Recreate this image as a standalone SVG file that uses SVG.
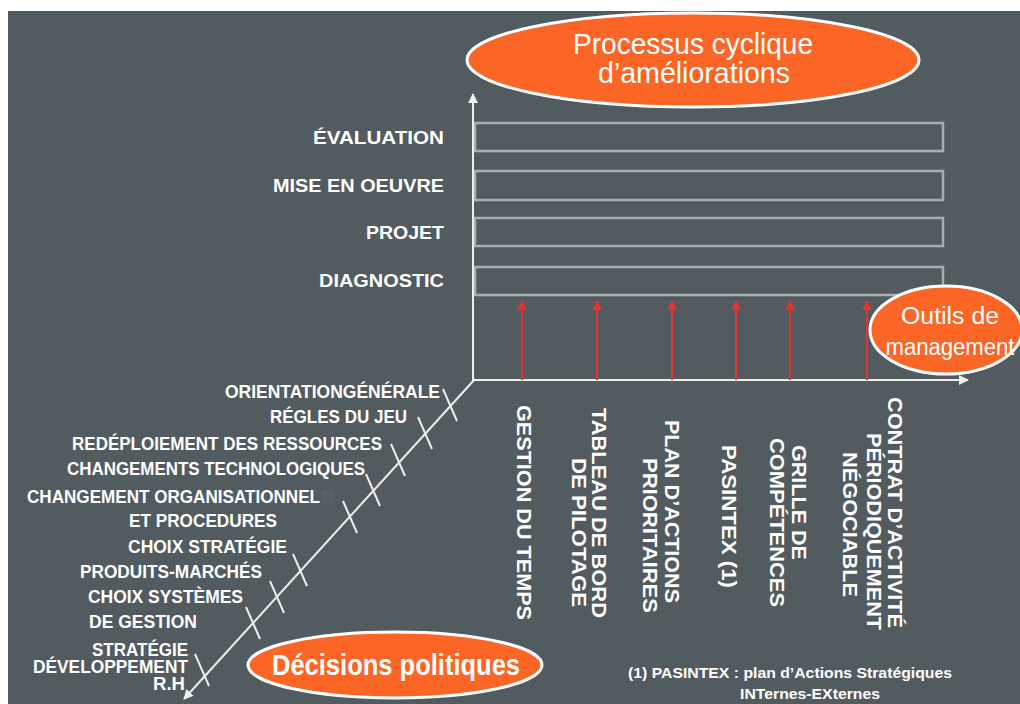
<svg xmlns="http://www.w3.org/2000/svg" width="1020" height="704" viewBox="0 0 1020 704">
<defs>
<style>
.bg{fill:#525b60}
.ell{fill:#fb6526;stroke:#ffffff;stroke-width:3}
.etxt{font-family:"Liberation Sans Narrow","Liberation Sans",Arial,sans-serif;fill:#ffffff}
.row{font-family:"Liberation Sans",Arial,sans-serif;font-weight:bold;font-size:19px;fill:#ffffff}
.lab{font-family:"Liberation Sans",Arial,sans-serif;font-weight:bold;font-size:18px;fill:#ffffff}
.vt{font-family:"Liberation Sans",Arial,sans-serif;font-weight:bold;font-size:21px;fill:#ffffff}
.note{font-family:"Liberation Sans",Arial,sans-serif;font-weight:bold;font-size:15px;fill:#ffffff}
.lane{fill:none;stroke:#a7afb2;stroke-width:2.5}
.axis{stroke:#eeeeee;stroke-width:2;fill:none}
.tick{stroke:#eeeeee;stroke-width:2}
.red{stroke:#e8322c;stroke-width:2;fill:none}
</style>
<marker id="wa" viewBox="0 0 10 10" refX="9" refY="5" markerWidth="5" markerHeight="5" orient="auto" markerUnits="strokeWidth"><path d="M0,0 L10,5 L0,10 z" fill="#eeeeee"/></marker>
<marker id="ra" viewBox="0 0 10 10" refX="9" refY="5" markerWidth="5" markerHeight="5" orient="auto" markerUnits="strokeWidth"><path d="M0,0 L10,5 L0,10 z" fill="#e8322c"/></marker>
</defs>
<rect x="0" y="0" width="1020" height="704" fill="#ffffff"/>
<rect class="bg" x="8" y="11" width="1012" height="693"/>

<g id="lanes">
<rect class="lane" x="475" y="123" width="468" height="28"/>
<rect class="lane" x="475" y="171" width="468" height="29"/>
<rect class="lane" x="475" y="218" width="468" height="28"/>
<rect class="lane" x="475" y="267" width="468" height="28"/>
</g>

<g id="connectors">
<line class="axis" x1="473" y1="381" x2="473" y2="94" marker-end="url(#wa)"/>
<line class="axis" x1="473" y1="380" x2="968" y2="380" marker-end="url(#wa)"/>
<line class="axis" x1="475" y1="379" x2="184" y2="699" marker-end="url(#wa)"/>
<line class="tick" x1="443" y1="389" x2="457" y2="421"/>
<line class="tick" x1="418" y1="417" x2="432" y2="449"/>
<line class="tick" x1="391" y1="444" x2="405" y2="476"/>
<line class="tick" x1="366" y1="474" x2="380" y2="506"/>
<line class="tick" x1="343" y1="501" x2="357" y2="533"/>
<line class="tick" x1="293" y1="554" x2="307" y2="586"/>
<line class="tick" x1="270" y1="581" x2="284" y2="613"/>
<line class="tick" x1="246" y1="607" x2="260" y2="639"/>
<line class="tick" x1="195" y1="654" x2="209" y2="686"/>
<line class="red" x1="522" y1="380" x2="522" y2="301" marker-end="url(#ra)"/>
<line class="red" x1="597" y1="380" x2="597" y2="301" marker-end="url(#ra)"/>
<line class="red" x1="672" y1="380" x2="672" y2="301" marker-end="url(#ra)"/>
<line class="red" x1="736" y1="380" x2="736" y2="301" marker-end="url(#ra)"/>
<line class="red" x1="790" y1="380" x2="790" y2="301" marker-end="url(#ra)"/>
<line class="red" x1="867" y1="380" x2="867" y2="301" marker-end="url(#ra)"/>
</g>

<g id="processus">
<ellipse class="ell" cx="693" cy="60" rx="226" ry="47"/>
<text class="etxt" x="693" y="54" font-size="29" text-anchor="middle" textLength="240" lengthAdjust="spacingAndGlyphs">Processus cyclique</text>
<text class="etxt" x="694" y="83" font-size="29" text-anchor="middle" textLength="192" lengthAdjust="spacingAndGlyphs">d’améliorations</text>
</g>

<g id="outils">
<ellipse class="ell" cx="946" cy="330" rx="76" ry="44"/>
<text class="etxt" x="950" y="324" font-size="23" text-anchor="middle" textLength="98" lengthAdjust="spacingAndGlyphs">Outils de</text>
<text class="etxt" x="950" y="355" font-size="23" text-anchor="middle" textLength="129" lengthAdjust="spacingAndGlyphs">management</text>
</g>

<g id="decisions">
<ellipse class="ell" cx="395" cy="665" rx="147" ry="33"/>
<text class="etxt" x="396" y="675" font-size="29" font-weight="bold" text-anchor="middle" textLength="248" lengthAdjust="spacingAndGlyphs">Décisions politiques</text>
</g>

<g id="rows">
<text class="row" x="444" y="144" text-anchor="end" textLength="131" lengthAdjust="spacingAndGlyphs">ÉVALUATION</text>
<text class="row" x="444" y="192" text-anchor="end" textLength="171" lengthAdjust="spacingAndGlyphs">MISE EN OEUVRE</text>
<text class="row" x="444" y="239" text-anchor="end" textLength="78" lengthAdjust="spacingAndGlyphs">PROJET</text>
<text class="row" x="444" y="287" text-anchor="end" textLength="125" lengthAdjust="spacingAndGlyphs">DIAGNOSTIC</text>
</g>

<g id="decisions-labels">
<rect x="322" y="490" width="11" height="13" fill="#5c5f63"/>
<text class="lab" x="225" y="398" textLength="215" lengthAdjust="spacingAndGlyphs">ORIENTATIONGÉNÉRALE</text>
<text class="lab" x="270" y="423" textLength="137" lengthAdjust="spacingAndGlyphs">RÉGLES DU JEU</text>
<text class="lab" x="72" y="450" textLength="310" lengthAdjust="spacingAndGlyphs">REDÉPLOIEMENT DES RESSOURCES</text>
<text class="lab" x="67" y="475" textLength="298" lengthAdjust="spacingAndGlyphs">CHANGEMENTS TECHNOLOGIQUES</text>
<text class="lab" x="27" y="503" textLength="293" lengthAdjust="spacingAndGlyphs">CHANGEMENT  ORGANISATIONNEL</text>
<text class="lab" x="129" y="527" textLength="148" lengthAdjust="spacingAndGlyphs">ET PROCEDURES</text>
<text class="lab" x="128" y="553" textLength="159" lengthAdjust="spacingAndGlyphs">CHOIX STRATÉGIE</text>
<text class="lab" x="80" y="578" textLength="182" lengthAdjust="spacingAndGlyphs">PRODUITS-MARCHÉS</text>
<text class="lab" x="88" y="603" textLength="155" lengthAdjust="spacingAndGlyphs">CHOIX SYSTÈMES</text>
<text class="lab" x="89" y="628" textLength="108" lengthAdjust="spacingAndGlyphs">DE GESTION</text>
<text class="lab" x="92" y="656" textLength="96" lengthAdjust="spacingAndGlyphs">STRATÉGIE</text>
<text class="lab" x="33" y="673" textLength="155" lengthAdjust="spacingAndGlyphs">DÉVELOPPEMENT</text>
<text class="lab" x="153" y="690" textLength="32" lengthAdjust="spacingAndGlyphs">R.H</text>
</g>

<g id="tools">
<text class="vt" transform="translate(517,405) rotate(90)" textLength="215" lengthAdjust="spacingAndGlyphs">GESTION DU TEMPS</text>
<text class="vt" transform="translate(592,408) rotate(90)" textLength="210" lengthAdjust="spacingAndGlyphs">TABLEAU DE BORD</text>
<text class="vt" transform="translate(572,458) rotate(90)" textLength="149" lengthAdjust="spacingAndGlyphs">DE PILOTAGE</text>
<text class="vt" transform="translate(665,420) rotate(90)" textLength="183" lengthAdjust="spacingAndGlyphs">PLAN D’ACTIONS</text>
<text class="vt" transform="translate(643,458) rotate(90)" textLength="155" lengthAdjust="spacingAndGlyphs">PRIORITAIRES</text>
<text class="vt" transform="translate(722,445) rotate(90)" textLength="143" lengthAdjust="spacingAndGlyphs">PASINTEX (1)</text>
<text class="vt" transform="translate(792,445) rotate(90)" textLength="115" lengthAdjust="spacingAndGlyphs">GRILLE DE</text>
<text class="vt" transform="translate(770,438) rotate(90)" textLength="169" lengthAdjust="spacingAndGlyphs">COMPÉTENCES</text>
<text class="vt" transform="translate(888,397) rotate(90)" textLength="231" lengthAdjust="spacingAndGlyphs">CONTRAT D’ACTIVITÉ</text>
<text class="vt" transform="translate(867,433) rotate(90)" textLength="197" lengthAdjust="spacingAndGlyphs">PÉRIODIQUEMENT</text>
<text class="vt" transform="translate(843,452) rotate(90)" textLength="145" lengthAdjust="spacingAndGlyphs">NÉGOCIABLE</text>
</g>

<g id="note">
<text class="note" x="628" y="678" textLength="324" lengthAdjust="spacingAndGlyphs">(1) PASINTEX : plan d’Actions  Stratégiques</text>
<text class="note" x="740" y="699" textLength="140" lengthAdjust="spacingAndGlyphs">INTernes-EXternes</text>
</g>
</svg>
